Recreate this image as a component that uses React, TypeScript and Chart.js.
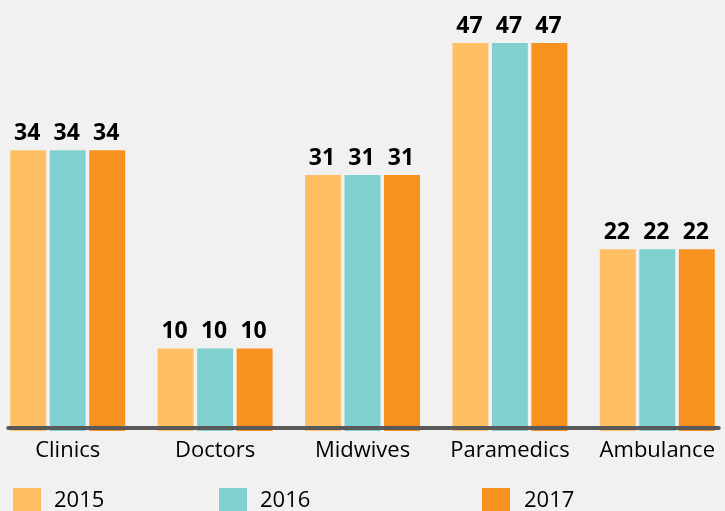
import React, { useEffect, useRef } from "react";
import { Chart, registerables } from "chart.js";

Chart.register(...registerables);

const categories = ["Clinics", "Doctors", "Midwives", "Paramedics", "Ambulance"];
const seriesNames = ["2015", "2016", "2017"];
const values2015 = [34, 10, 31, 47, 22];
const values2016 = [34, 10, 31, 47, 22];
const values2017 = [34, 10, 31, 47, 22];
const colors = ["#FDBF62", "#80D0D0", "#F7921F"];

const FONT = "'Open Sans', 'Noto Sans', sans-serif";
const BG = "#F1F1F1";

const legendPos = [
  { box: 19, text: 60 },
  { box: 225, text: 266 },
  { box: 488, text: 530 },
];

const decorPlugin = {
  id: "decor",
  beforeDraw(chart: any) {
    const { ctx, width, height } = chart;
    ctx.save();
    ctx.fillStyle = BG;
    ctx.fillRect(0, 0, width, height);
    ctx.restore();
  },
  afterDatasetsDraw(chart: any) {
    const { ctx } = chart;
    ctx.save();
    // value labels
    ctx.font = `bold 23px ${FONT}`;
    ctx.fillStyle = "#000";
    ctx.textAlign = "center";
    ctx.textBaseline = "alphabetic";
    chart.data.datasets.forEach((ds: any, di: number) => {
      const meta = chart.getDatasetMeta(di);
      meta.data.forEach((bar: any, i: number) => {
        ctx.fillText(String(ds.data[i]), bar.x - 1, bar.y - 10);
      });
    });
    // axis line
    const first = chart.getDatasetMeta(0).data[0];
    const lastMeta = chart.getDatasetMeta(chart.data.datasets.length - 1);
    const last = lastMeta.data[lastMeta.data.length - 1];
    const x0 = first.x - first.width / 2 - 2;
    const x1 = last.x + last.width / 2 + 4;
    const y = chart.scales.y.getPixelForValue(0) - 3;
    ctx.strokeStyle = "#595959";
    ctx.lineWidth = 4;
    ctx.lineCap = "round";
    ctx.beginPath();
    ctx.moveTo(x0, y);
    ctx.lineTo(x1, y);
    ctx.stroke();
    // legend
    ctx.font = `22px ${FONT}`;
    ctx.textAlign = "left";
    ctx.textBaseline = "alphabetic";
    seriesNames.forEach((name, i) => {
      const p = legendPos[i];
      ctx.fillStyle = colors[i];
      ctx.fillRect(p.box, 488, 28, 28);
      ctx.fillStyle = "#000";
      ctx.fillText(name, p.text, 507);
    });
    ctx.restore();
  },
};

export default function App() {
  const ref = useRef<HTMLCanvasElement>(null);
  useEffect(() => {
    document.body.style.background = BG;
    const allValues = [values2015, values2016, values2017];
    const chart = new Chart(ref.current!, {
      type: "bar",
      data: {
        labels: categories,
        datasets: seriesNames.map((name, i) => ({
          label: name,
          data: allValues[i],
          backgroundColor: colors[i],
          borderWidth: 0,
          categoryPercentage: 0.804,
          barPercentage: 0.91,
        })),
      },
      options: {
        animation: false,
        responsive: false,
        maintainAspectRatio: false,
        layout: { padding: 0 },
        plugins: { legend: { display: false }, tooltip: { enabled: false } },
        scales: {
          x: {
            grid: { display: false, drawTicks: false },
            border: { display: false },
            ticks: { color: "#000", font: { family: FONT, size: 22 }, padding: 7, maxRotation: 0 },
            afterFit: (s: any) => {
              s.height = 80;
            },
          },
          y: {
            display: false,
            min: 0,
            max: 52.2,
          },
        },
      },
      plugins: [decorPlugin],
    });
    return () => chart.destroy();
  }, []);
  return (
    <div style={{ position: "fixed", left: -6, top: 0, width: 737, height: 511, background: BG }}>
      <canvas ref={ref} width={737} height={511} style={{ display: "block" }} />
    </div>
  );
}
